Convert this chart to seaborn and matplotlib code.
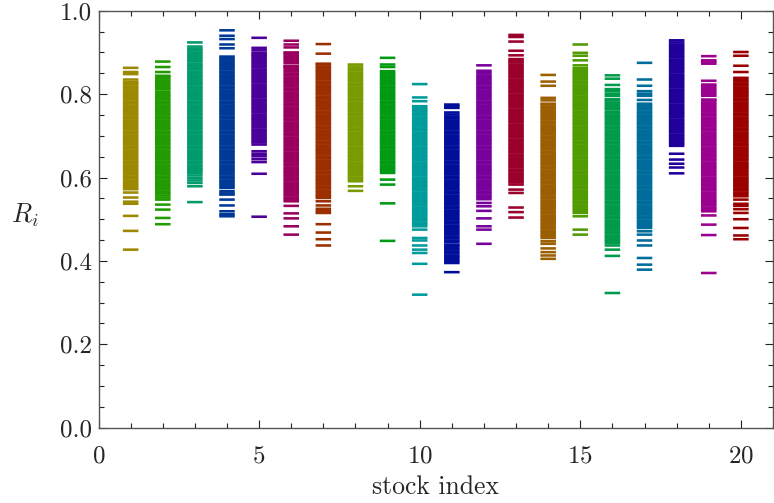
import numpy as np
import pandas as pd
import matplotlib
matplotlib.use("Agg")
import matplotlib.pyplot as plt
from matplotlib.ticker import MultipleLocator, FormatStrFormatter
import seaborn as sns

# R_i values observed for each stock (one list per stock index 1..20)
r01 = [0.863, 0.853, 0.848, 0.835, 0.829,
       0.826, 0.823, 0.818, 0.814, 0.809, 0.805, 0.800, 0.796, 0.791, 0.787, 0.782, 0.778, 0.773, 0.769, 0.764,
       0.760, 0.755, 0.751, 0.746, 0.742, 0.737, 0.733, 0.728, 0.724, 0.719, 0.715, 0.710, 0.706, 0.701, 0.697,
       0.692, 0.688, 0.683, 0.679, 0.674, 0.670, 0.665, 0.661, 0.656, 0.652, 0.647, 0.643, 0.638, 0.634, 0.629,
       0.625, 0.620, 0.616, 0.611, 0.607, 0.602, 0.598, 0.593, 0.589, 0.584, 0.580, 0.575,
       0.572, 0.564, 0.552, 0.542, 0.537, 0.508, 0.472, 0.427]
r02 = [0.878, 0.865, 0.853,
       0.844, 0.842, 0.838, 0.833, 0.829, 0.824, 0.820, 0.815, 0.811,
       0.805, 0.800, 0.796, 0.791, 0.787, 0.782, 0.778, 0.773, 0.769, 0.764, 0.760, 0.755, 0.751, 0.746, 0.742,
       0.737, 0.733, 0.728, 0.724, 0.719, 0.715, 0.710, 0.706, 0.701, 0.697, 0.692, 0.688, 0.683, 0.679, 0.674,
       0.670, 0.665, 0.661, 0.656, 0.652, 0.647, 0.643, 0.638, 0.634, 0.629, 0.625, 0.620, 0.616, 0.611, 0.607,
       0.602, 0.598, 0.593, 0.589, 0.584, 0.580, 0.575, 0.571, 0.566, 0.562, 0.557,
       0.552, 0.547, 0.535, 0.523, 0.503, 0.488]
r03 = [0.924,
       0.914, 0.909, 0.905, 0.900, 0.896, 0.891, 0.887, 0.882, 0.878,
       0.872, 0.868, 0.863, 0.859, 0.854, 0.850, 0.845, 0.841, 0.836, 0.832, 0.827, 0.823, 0.818, 0.814, 0.809,
       0.805, 0.800, 0.796, 0.791, 0.787, 0.782, 0.778, 0.773, 0.769, 0.764, 0.760, 0.755, 0.751, 0.746, 0.742,
       0.737, 0.733, 0.728, 0.724, 0.719, 0.715, 0.710, 0.706, 0.701, 0.697, 0.692, 0.688, 0.683, 0.679, 0.674,
       0.670, 0.665, 0.661, 0.656, 0.652, 0.647, 0.643, 0.638, 0.634, 0.629, 0.625, 0.620, 0.616, 0.611,
       0.605, 0.599, 0.593, 0.587, 0.579, 0.541]
r04 = [0.953, 0.940, 0.932, 0.919, 0.910,
       0.890, 0.886, 0.881, 0.877, 0.872, 0.868, 0.863, 0.859, 0.854, 0.850, 0.845, 0.841, 0.836, 0.832, 0.827,
       0.823, 0.818, 0.814, 0.809, 0.805, 0.800, 0.796, 0.791, 0.787, 0.782, 0.778, 0.773, 0.769, 0.764, 0.760,
       0.755, 0.751, 0.746, 0.742, 0.737, 0.733, 0.728, 0.724, 0.719, 0.715, 0.710, 0.706, 0.701, 0.697, 0.692,
       0.688, 0.683, 0.679, 0.674, 0.670, 0.665, 0.661, 0.656, 0.652, 0.647, 0.643, 0.638, 0.634, 0.629, 0.625,
       0.620, 0.616, 0.611, 0.607, 0.602, 0.598, 0.593, 0.589, 0.584, 0.580, 0.575,
       0.567, 0.562, 0.559, 0.547, 0.533, 0.519, 0.512, 0.507]
r05 = [0.935, 0.911, 0.905, 0.899,
       0.895, 0.891, 0.886, 0.882, 0.877, 0.873, 0.868, 0.864, 0.859, 0.855, 0.850, 0.846, 0.841, 0.837, 0.832,
       0.828, 0.823, 0.819, 0.814, 0.810, 0.805, 0.801, 0.796, 0.792, 0.787, 0.783, 0.778, 0.774, 0.769, 0.765,
       0.760, 0.756, 0.751, 0.747, 0.742, 0.738, 0.733, 0.729, 0.724, 0.720, 0.715, 0.711, 0.706, 0.702, 0.697,
       0.693, 0.688, 0.684, 0.679,
       0.663, 0.657, 0.651, 0.644, 0.637, 0.609, 0.506]
r06 = [0.928, 0.919, 0.912,
       0.900, 0.898, 0.893, 0.889, 0.884, 0.880, 0.875, 0.868,
       0.866, 0.863, 0.858, 0.854, 0.849, 0.845, 0.840, 0.836, 0.831, 0.827, 0.822, 0.818, 0.813, 0.809, 0.804,
       0.800, 0.795, 0.791, 0.786, 0.782, 0.777, 0.773, 0.768, 0.764, 0.759, 0.755, 0.750, 0.746, 0.741, 0.737,
       0.732, 0.728, 0.723, 0.719, 0.714, 0.710, 0.705, 0.701, 0.696, 0.692, 0.687, 0.683, 0.678, 0.674, 0.669,
       0.665, 0.660, 0.656, 0.651, 0.647, 0.642, 0.638, 0.633, 0.629, 0.624, 0.620, 0.615, 0.611, 0.606, 0.602,
       0.597, 0.593, 0.588, 0.584, 0.579, 0.575, 0.570, 0.566, 0.561, 0.557, 0.552, 0.548, 0.543,
       0.532, 0.514, 0.502, 0.483, 0.463]
r07 = [0.920, 0.897,
       0.873, 0.871, 0.866, 0.862, 0.857, 0.853, 0.848, 0.844, 0.839, 0.835, 0.830, 0.826, 0.821, 0.817, 0.812,
       0.808, 0.803, 0.799, 0.794, 0.790, 0.785, 0.781, 0.776, 0.772, 0.767, 0.763, 0.758, 0.754, 0.749, 0.745,
       0.740, 0.736, 0.731, 0.727, 0.722, 0.718, 0.713, 0.709, 0.704, 0.700, 0.695, 0.691, 0.686, 0.682, 0.677,
       0.673, 0.668, 0.664, 0.659, 0.655, 0.650, 0.646, 0.641, 0.637, 0.632, 0.628, 0.623, 0.619, 0.614, 0.610,
       0.605, 0.601, 0.596, 0.592, 0.587, 0.583, 0.578, 0.574, 0.569, 0.565, 0.560, 0.556, 0.551,
       0.543, 0.533, 0.525, 0.519, 0.515, 0.488, 0.468, 0.452, 0.437]
r08 = [0.871, 0.866, 0.861, 0.857, 0.852, 0.848, 0.843, 0.839, 0.834, 0.830, 0.825, 0.821, 0.816, 0.812, 0.807,
       0.803, 0.798, 0.794, 0.789, 0.785, 0.780, 0.776, 0.771, 0.767, 0.762, 0.758, 0.753, 0.749, 0.744, 0.740,
       0.735, 0.731, 0.726, 0.722, 0.717, 0.713, 0.708, 0.704, 0.699, 0.695, 0.690, 0.686, 0.681, 0.677, 0.672,
       0.668, 0.663, 0.659, 0.654, 0.650, 0.645, 0.641, 0.636, 0.632, 0.627, 0.623, 0.618, 0.614, 0.609, 0.605,
       0.600, 0.596, 0.591,
       0.579, 0.568]
r09 = [0.887, 0.871, 0.865,
       0.855, 0.850, 0.845, 0.841, 0.836, 0.832, 0.827, 0.823, 0.818, 0.814, 0.809, 0.805, 0.800, 0.796, 0.791,
       0.787, 0.782, 0.778, 0.773, 0.769, 0.764, 0.760, 0.755, 0.751, 0.746, 0.742, 0.737, 0.733, 0.728, 0.724,
       0.719, 0.715, 0.710, 0.706, 0.701, 0.697, 0.692, 0.688, 0.683, 0.679, 0.674, 0.670, 0.665, 0.661, 0.656,
       0.652, 0.647, 0.643, 0.638, 0.634, 0.629, 0.625, 0.620, 0.616, 0.611,
       0.595, 0.583, 0.538, 0.448]
r10 = [0.824, 0.792, 0.783,
       0.771, 0.767, 0.762, 0.758, 0.753, 0.749, 0.744, 0.740, 0.735, 0.731, 0.726, 0.722, 0.717, 0.713, 0.708,
       0.704, 0.699, 0.695, 0.690, 0.686, 0.681, 0.677, 0.672, 0.668, 0.663, 0.659, 0.654, 0.650, 0.645, 0.641,
       0.636, 0.632, 0.627, 0.623, 0.618, 0.614, 0.609, 0.605, 0.600, 0.596, 0.591, 0.587, 0.582, 0.578, 0.573,
       0.569, 0.564, 0.560, 0.555, 0.551, 0.546, 0.542, 0.537, 0.533, 0.528, 0.524, 0.519, 0.515, 0.510, 0.506,
       0.501, 0.497, 0.492, 0.488, 0.483,
       0.475, 0.455, 0.449, 0.437, 0.427, 0.419, 0.393, 0.319]
r11 = [0.775, 0.771, 0.767, 0.756,
       0.751, 0.746, 0.742, 0.737, 0.733, 0.728, 0.724, 0.719, 0.715, 0.710, 0.706, 0.701, 0.697, 0.692, 0.688,
       0.683, 0.679, 0.674, 0.670, 0.665, 0.661, 0.656, 0.652, 0.647, 0.643, 0.638, 0.634, 0.629, 0.625, 0.620,
       0.616, 0.611, 0.607, 0.602, 0.598, 0.593, 0.589, 0.584, 0.580, 0.575, 0.571, 0.566, 0.562, 0.557, 0.553,
       0.548, 0.544, 0.539, 0.535, 0.530, 0.526, 0.521, 0.517, 0.512, 0.508, 0.503, 0.499, 0.494, 0.490, 0.485,
       0.481, 0.476, 0.472, 0.467, 0.463, 0.458, 0.454, 0.449, 0.445,
       0.439, 0.436, 0.431, 0.427, 0.422, 0.418, 0.413, 0.409, 0.404, 0.400, 0.395,
       0.373]
r12 = [0.869, 0.856, 0.851,
       0.845, 0.841, 0.836, 0.832, 0.827, 0.823, 0.818, 0.814, 0.809, 0.805, 0.800, 0.796, 0.791, 0.787, 0.782,
       0.778, 0.773, 0.769, 0.764, 0.760, 0.755, 0.751, 0.746, 0.742, 0.737, 0.733, 0.728, 0.724, 0.719, 0.715,
       0.710, 0.706, 0.701, 0.697, 0.692, 0.688, 0.683, 0.679, 0.674, 0.670, 0.665, 0.661, 0.656, 0.652, 0.647,
       0.643, 0.638, 0.634, 0.629, 0.625, 0.620, 0.616, 0.611, 0.607, 0.602, 0.598, 0.593, 0.589, 0.584, 0.580,
       0.575, 0.571, 0.566, 0.562, 0.557, 0.553, 0.548,
       0.539, 0.531, 0.520, 0.502, 0.483, 0.475, 0.441]
r13 = [0.942, 0.937, 0.926, 0.904, 0.893,
       0.884, 0.880, 0.876, 0.871, 0.867, 0.862, 0.858, 0.853, 0.849, 0.844, 0.840, 0.835, 0.831, 0.826, 0.822,
       0.817, 0.813, 0.808, 0.804, 0.799, 0.795, 0.790, 0.786, 0.781, 0.777, 0.772, 0.768, 0.763, 0.759, 0.754,
       0.750, 0.745, 0.741, 0.736, 0.732, 0.727, 0.723, 0.718, 0.714, 0.709, 0.705, 0.700, 0.696, 0.691, 0.687,
       0.682, 0.678, 0.673, 0.669, 0.664, 0.660, 0.655, 0.651, 0.646, 0.642, 0.637, 0.633, 0.628, 0.624, 0.619,
       0.615, 0.610, 0.606, 0.601, 0.597, 0.592, 0.588, 0.583,
       0.571, 0.563, 0.528, 0.517, 0.504]
r14 = [0.846, 0.830, 0.820, 0.791, 0.785,
       0.777, 0.775, 0.770, 0.766, 0.761, 0.757, 0.752, 0.748, 0.743, 0.739, 0.734, 0.730, 0.725, 0.721, 0.716,
       0.712, 0.707, 0.703, 0.698, 0.694, 0.689, 0.685, 0.680, 0.676, 0.671, 0.667, 0.662, 0.658, 0.653, 0.649,
       0.644, 0.640, 0.635, 0.631, 0.626, 0.622, 0.617, 0.613, 0.608, 0.604, 0.599, 0.595, 0.590, 0.586, 0.581,
       0.577, 0.572, 0.568, 0.563, 0.559, 0.554, 0.550, 0.545, 0.541, 0.536, 0.532, 0.527, 0.523, 0.518, 0.514,
       0.509, 0.505, 0.500, 0.496, 0.491, 0.487, 0.482, 0.478, 0.473, 0.469, 0.464, 0.460, 0.455,
       0.447, 0.441, 0.430, 0.421, 0.413, 0.405]
r15 = [0.919, 0.899, 0.892, 0.881, 0.869,
       0.862, 0.857, 0.853, 0.848, 0.844, 0.839, 0.835, 0.830, 0.826, 0.821, 0.817, 0.812, 0.808, 0.803, 0.799,
       0.794, 0.790, 0.785, 0.781, 0.776, 0.772, 0.767, 0.763, 0.758, 0.754, 0.749, 0.745, 0.740, 0.736, 0.731,
       0.727, 0.722, 0.718, 0.713, 0.709, 0.704, 0.700, 0.695, 0.691, 0.686, 0.682, 0.677, 0.673, 0.668, 0.664,
       0.659, 0.655, 0.650, 0.646, 0.641, 0.637, 0.632, 0.628, 0.623, 0.619, 0.614, 0.610, 0.605, 0.601, 0.596,
       0.592, 0.587, 0.583, 0.578, 0.574, 0.569, 0.565, 0.560, 0.556, 0.551, 0.547, 0.542, 0.538, 0.533, 0.529,
       0.524, 0.520, 0.515,
       0.507, 0.475, 0.463]
r16 = [0.845, 0.837, 0.822, 0.812, 0.807, 0.801, 0.796,
       0.788, 0.785, 0.780, 0.776, 0.771, 0.767, 0.763,
       0.757, 0.754, 0.749, 0.745, 0.740, 0.736, 0.731, 0.727, 0.722, 0.718, 0.713, 0.709, 0.704, 0.700, 0.695,
       0.691, 0.686, 0.682, 0.677, 0.673, 0.668, 0.664, 0.659, 0.655, 0.650, 0.646, 0.641, 0.637, 0.632, 0.628,
       0.623, 0.619, 0.614, 0.610, 0.605, 0.601, 0.596, 0.592, 0.587, 0.583, 0.578, 0.574, 0.569, 0.565, 0.560,
       0.556, 0.551, 0.547, 0.542, 0.538, 0.533, 0.529, 0.524, 0.520, 0.515, 0.511, 0.506, 0.502, 0.497, 0.493,
       0.488, 0.484, 0.479, 0.475, 0.470, 0.466, 0.461, 0.457, 0.452, 0.448, 0.443,
       0.437, 0.427, 0.412, 0.323]
r17 = [0.875, 0.835, 0.820, 0.807, 0.801, 0.796, 0.786,
       0.777, 0.772, 0.767, 0.763, 0.758, 0.754, 0.749, 0.745, 0.740, 0.736, 0.731, 0.727, 0.722, 0.718, 0.713,
       0.709, 0.704, 0.700, 0.695, 0.691, 0.686, 0.682, 0.677, 0.673, 0.668, 0.664, 0.659, 0.655, 0.650, 0.646,
       0.641, 0.637, 0.632, 0.628, 0.623, 0.619, 0.614, 0.610, 0.605, 0.601, 0.596, 0.592, 0.587, 0.583, 0.578,
       0.574, 0.569, 0.565, 0.560, 0.556, 0.551, 0.547, 0.542, 0.538, 0.533, 0.529, 0.524, 0.520, 0.515, 0.511,
       0.506, 0.502, 0.497, 0.493, 0.488, 0.484, 0.479,
       0.471, 0.463, 0.449, 0.437, 0.407, 0.391, 0.379]
r18 = [0.929, 0.924, 0.919, 0.915, 0.910, 0.906, 0.901, 0.897, 0.892, 0.888, 0.883, 0.879, 0.874, 0.870, 0.865,
       0.861, 0.856, 0.852, 0.847, 0.843, 0.838, 0.834, 0.829, 0.825, 0.820, 0.816, 0.811, 0.807, 0.802, 0.798,
       0.793, 0.789, 0.784, 0.780, 0.775, 0.771, 0.766, 0.762, 0.757, 0.753, 0.748, 0.744, 0.739, 0.735, 0.730,
       0.726, 0.721, 0.717, 0.712, 0.708, 0.703, 0.699, 0.694, 0.690, 0.685, 0.681, 0.676,
       0.657, 0.643, 0.633, 0.624, 0.610]
r19 = [0.891, 0.881, 0.877, 0.873, 0.832,
       0.823, 0.819, 0.814, 0.810, 0.805, 0.801, 0.796,
       0.787, 0.785, 0.780, 0.776, 0.771, 0.767, 0.762, 0.758, 0.753, 0.749, 0.744, 0.740, 0.735, 0.731, 0.726,
       0.722, 0.717, 0.713, 0.708, 0.704, 0.699, 0.695, 0.690, 0.686, 0.681, 0.677, 0.672, 0.668, 0.663, 0.659,
       0.654, 0.650, 0.645, 0.641, 0.636, 0.632, 0.627, 0.623, 0.618, 0.614, 0.609, 0.605, 0.600, 0.596, 0.591,
       0.587, 0.582, 0.578, 0.573, 0.569, 0.564, 0.560, 0.555, 0.551, 0.546, 0.542, 0.537, 0.533, 0.528, 0.524,
       0.519,
       0.509, 0.487, 0.462, 0.371]
r20 = [0.901, 0.892, 0.868, 0.853,
       0.839, 0.834, 0.830, 0.825, 0.821, 0.816, 0.812, 0.807, 0.803, 0.798, 0.794, 0.789, 0.785, 0.780, 0.776,
       0.771, 0.767, 0.762, 0.758, 0.753, 0.749, 0.744, 0.740, 0.735, 0.731, 0.726, 0.722, 0.717, 0.713, 0.708,
       0.704, 0.699, 0.695, 0.690, 0.686, 0.681, 0.677, 0.672, 0.668, 0.663, 0.659, 0.654, 0.650, 0.645, 0.641,
       0.636, 0.632, 0.627, 0.623, 0.618, 0.614, 0.609, 0.605, 0.600, 0.596, 0.591, 0.587, 0.582, 0.578, 0.573,
       0.569, 0.564, 0.560, 0.555,
       0.547, 0.537, 0.532, 0.524, 0.515, 0.500, 0.479, 0.461, 0.452]

stock_values = [r01, r02, r03, r04, r05, r06, r07, r08, r09, r10,
                r11, r12, r13, r14, r15, r16, r17, r18, r19, r20]
stock_ids = list(range(1, 21))
stock_colors = ["#9b8a00", "#219b00", "#009b6c", "#003a96", "#4a0099",
                "#9b005e", "#9b2f00", "#7a9b00", "#009b12", "#009b9b",
                "#000f9b", "#78009b", "#9b002a", "#9b5e00", "#4f9b00",
                "#009b4a", "#006c9b", "#1f009b", "#9b0090", "#9b0000"]

df = pd.DataFrame(
    [(sid, v) for sid, vals in zip(stock_ids, stock_values) for v in vals],
    columns=["stock", "R"],
)

sns.set_style("ticks")
plt.rcParams["font.family"] = ["cmr10", "DejaVu Serif"]
plt.rcParams["mathtext.fontset"] = "cm"
plt.rcParams["axes.formatter.use_mathtext"] = True

fig = plt.figure(figsize=(7.74, 5.03), dpi=100)
ax = fig.add_axes([0.1273, 0.1497, 0.8714, 0.8290])

sns.scatterplot(
    data=df, x="stock", y="R", hue="stock",
    palette=dict(zip(stock_ids, stock_colors)),
    marker="_", s=125, linewidth=1.85, legend=False, ax=ax,
)
# smooth (unsnapped) dashes so that dense runs merge into solid bands
for coll in ax.collections:
    coll.set_snap(False)

ax.set_xlim(0, 21)
ax.set_ylim(0.0, 1.0)
ax.xaxis.set_major_locator(MultipleLocator(5))
ax.xaxis.set_minor_locator(MultipleLocator(1))
ax.yaxis.set_major_locator(MultipleLocator(0.2))
ax.yaxis.set_minor_locator(MultipleLocator(0.05))
ax.yaxis.set_major_formatter(FormatStrFormatter("%.1f"))

for side in ["left", "right", "top", "bottom"]:
    ax.spines[side].set_visible(True)
    ax.spines[side].set_color("#555555")
    ax.spines[side].set_linewidth(1.0)

ax.tick_params(which="both", direction="in", top=True, right=True,
               color="#222222", width=0.8)
ax.tick_params(which="major", length=5.5, labelsize=18)
ax.tick_params(axis="x", which="major", pad=13)
ax.tick_params(axis="y", which="major", pad=5)
ax.tick_params(which="minor", length=3.5)

ax.set_xlabel("stock index", fontsize=18.5)
ax.xaxis.set_label_coords(0.5, -0.113)
ax.xaxis.label.set_va("top")
ax.set_ylabel("$R_i$", fontsize=19, rotation=0)
ax.yaxis.set_label_coords(-0.110, 0.51)
ax.yaxis.label.set_ha("center")
ax.yaxis.label.set_va("center")

fig.savefig("out.png", dpi=100)
